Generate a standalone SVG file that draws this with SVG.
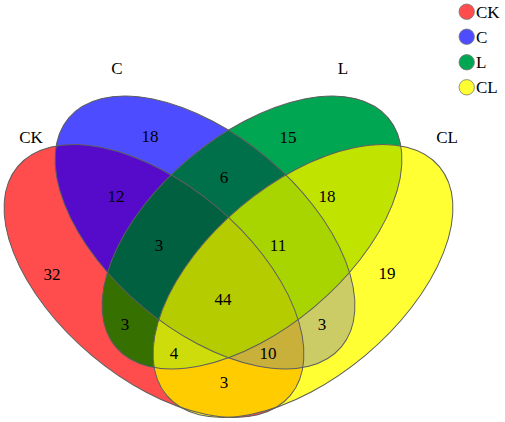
<svg xmlns="http://www.w3.org/2000/svg" xmlns:xlink="http://www.w3.org/1999/xlink" width="505" height="422" viewBox="0 0 505 422">
<style>
  text { font-family: "Liberation Serif", "Times New Roman", serif; font-size: 17px; fill: #000; }
  .num { text-anchor: middle; }
  .outline use { fill: none; stroke: #5e5e5e; stroke-width: 1; }
  .leg { stroke: #777; stroke-width: 0.8; }
</style>
<defs>
  <ellipse id="eCK" cx="0" cy="0" rx="178" ry="97" transform="translate(154,281) rotate(40)"/>
  <ellipse id="eC" cx="0" cy="0" rx="178" ry="97" transform="translate(205,232.5) rotate(40)"/>
  <ellipse id="eL" cx="0" cy="0" rx="178" ry="97" transform="translate(252,232.5) rotate(-40)"/>
  <ellipse id="eCL" cx="0" cy="0" rx="178" ry="97" transform="translate(303,281) rotate(-40)"/>
  <clipPath id="cCK"><use xlink:href="#eCK"/></clipPath>
  <clipPath id="cC"><use xlink:href="#eC"/></clipPath>
  <clipPath id="cL"><use xlink:href="#eL"/></clipPath>
  <clipPath id="cCL"><use xlink:href="#eCL"/></clipPath>
</defs>

<g id="regions">
  <!-- single sets -->
  <use xlink:href="#eCK" fill="#FF4D4D"/>
  <use xlink:href="#eC" fill="#4D4DFF"/>
  <use xlink:href="#eL" fill="#00A651"/>
  <use xlink:href="#eCL" fill="#FFFF33"/>
  <!-- pairs -->
  <use xlink:href="#eC" clip-path="url(#cCK)" fill="#560BCB"/>
  <use xlink:href="#eL" clip-path="url(#cCK)" fill="#357000"/>
  <use xlink:href="#eCL" clip-path="url(#cCK)" fill="#FFCC00"/>
  <use xlink:href="#eL" clip-path="url(#cC)" fill="#00704A"/>
  <use xlink:href="#eCL" clip-path="url(#cC)" fill="#CCCC66"/>
  <use xlink:href="#eCL" clip-path="url(#cL)" fill="#C0E400"/>
  <!-- triples -->
  <g clip-path="url(#cCK)"><use xlink:href="#eL" clip-path="url(#cC)" fill="#006040"/></g>
  <g clip-path="url(#cCK)"><use xlink:href="#eCL" clip-path="url(#cC)" fill="#C9B03A"/></g>
  <g clip-path="url(#cCK)"><use xlink:href="#eCL" clip-path="url(#cL)" fill="#CDDC0A"/></g>
  <g clip-path="url(#cC)"><use xlink:href="#eCL" clip-path="url(#cL)" fill="#A8D400"/></g>
  <!-- all four -->
  <g clip-path="url(#cCK)"><g clip-path="url(#cC)"><use xlink:href="#eCL" clip-path="url(#cL)" fill="#B5CC00"/></g></g>
</g>

<g id="connectors" class="outline">
  <use xlink:href="#eCK"/>
  <use xlink:href="#eC"/>
  <use xlink:href="#eL"/>
  <use xlink:href="#eCL"/>
</g>

<g id="set-CK"><text x="31" y="143" class="num">CK</text></g>
<g id="set-C"><text x="117" y="74" class="num">C</text></g>
<g id="set-L"><text x="343" y="74" class="num">L</text></g>
<g id="set-CL"><text x="447" y="143" class="num">CL</text></g>

<g id="counts">
  <text x="150" y="142" class="num">18</text>
  <text x="288" y="143" class="num">15</text>
  <text x="116" y="202" class="num">12</text>
  <text x="224" y="183" class="num">6</text>
  <text x="327" y="202" class="num">18</text>
  <text x="159" y="251" class="num">3</text>
  <text x="278" y="251" class="num">11</text>
  <text x="52" y="280" class="num">32</text>
  <text x="223" y="305" class="num">44</text>
  <text x="387" y="279" class="num">19</text>
  <text x="125" y="330" class="num">3</text>
  <text x="322" y="330" class="num">3</text>
  <text x="174" y="359" class="num">4</text>
  <text x="268" y="359" class="num">10</text>
  <text x="224" y="388" class="num">3</text>
</g>

<g id="legend">
  <circle class="leg" cx="466.7" cy="11.7" r="7.7" fill="#FF4D4D"/>
  <circle class="leg" cx="466.7" cy="36.7" r="7.7" fill="#4D4DFF"/>
  <circle class="leg" cx="466.7" cy="62.3" r="7.7" fill="#00A651"/>
  <circle class="leg" cx="466.7" cy="87.3" r="7.7" fill="#FFFF33"/>
  <text x="476" y="18">CK</text>
  <text x="476" y="43">C</text>
  <text x="476" y="68">L</text>
  <text x="476" y="93">CL</text>
</g>
</svg>
